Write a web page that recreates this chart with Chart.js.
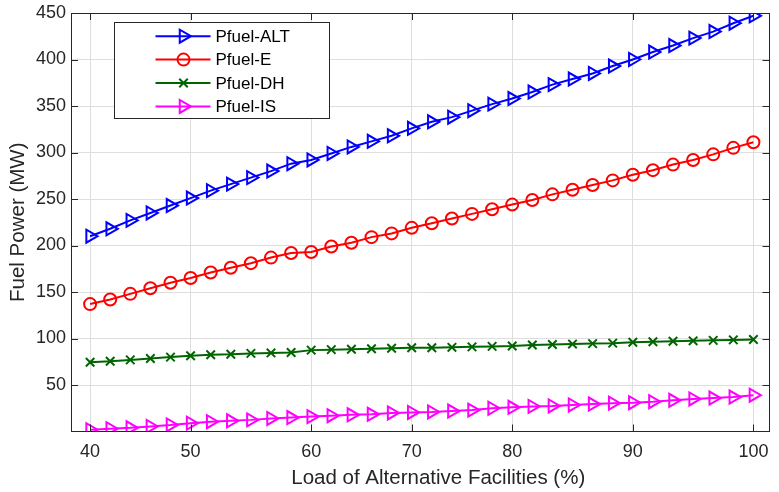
<!DOCTYPE html>
<html><head><meta charset="utf-8">
<script src="https://cdn.jsdelivr.net/npm/chart.js@4/dist/chart.umd.min.js"></script>
<style>html,body{margin:0;padding:0;background:#fff}#wrap{width:779px;height:492px}</style>
</head><body><div id="wrap"><canvas id="c" width="779" height="492"></canvas></div>
<script>
// x-axis category labels per sample point (only some points carry a tick label)
const xTickLabels = ['40','','','','','50','','','','','','60','','','','','70','','','','','80','','','','','','90','','','','','','100'];
const yTickValues = [50,100,150,200,250,300,350,400,450];
const seriesNames = ['Pfuel-ALT','Pfuel-E','Pfuel-DH','Pfuel-IS'];
const xTitle = 'Load of Alternative Facilities (%)';
const yTitle = 'Fuel Power (MW)';
const pfuelALT = [210,218,227,235,243,251,259,266,273,280,288,292,299,306,312,318,326,333,338,345,352,358,365,373,379,385,393,400,408,415,423,430,439,447];
const pfuelE   = [137,142,148,154,160,165,171,176,181,187,192,193,199,203,209,213,219,224,229,234,239,244,249,255,260,265,270,276,281,287,292,298,305,311];
const pfuelDH  = [74.5,75.5,77,78.5,80,81.5,82.5,83,84,84.5,85,87.5,88,88.5,89,89.5,90,90,90.5,91,91.5,92,93,93.5,94,94.5,95,96,96.5,97,97.5,98,98.5,99];
const pfuelIS  = [2,3,4,5.5,7,9,10.5,11.5,12.5,14,15,16,17,18,18.5,20,20.5,21,22,23,25,26,27,27.5,28.5,29.5,30.5,31,32,33.5,35,36,37,39];

const FONT = "'Liberation Sans', Arial, sans-serif";
const AX = '#262626';
const pts = arr => arr.map((v, i) => ({x: i, y: v}));

function ds(label, data, color, style, radius, rotation) {
  return {label, data: pts(data), borderColor: color, borderWidth: 2,
    pointStyle: style, pointRadius: radius, pointRotation: rotation,
    pointBorderColor: color, pointBackgroundColor: 'rgba(0,0,0,0)', pointBorderWidth: 2,
    tension: 0, fill: false};
}

const boxPlugin = {
  id: 'box',
  afterDraw(chart) {
    const {ctx, chartArea: ca, scales} = chart;
    ctx.save();
    ctx.strokeStyle = AX; ctx.lineWidth = 1;
    ctx.strokeRect(Math.round(ca.left) + 0.5, Math.round(ca.top) + 0.5, Math.round(ca.right - ca.left) - 1, Math.round(ca.bottom - ca.top) - 1);
    const tl = 7;
    ctx.beginPath();
    scales.x.ticks.forEach(t => {
      const px = Math.round(scales.x.getPixelForValue(t.value)) + 0.5;
      ctx.moveTo(px, ca.bottom); ctx.lineTo(px, ca.bottom - tl);
      ctx.moveTo(px, ca.top); ctx.lineTo(px, ca.top + tl);
    });
    scales.y.ticks.forEach(t => {
      const py = Math.round(scales.y.getPixelForValue(t.value)) + 0.5;
      ctx.moveTo(ca.left, py); ctx.lineTo(ca.left + tl, py);
      ctx.moveTo(ca.right, py); ctx.lineTo(ca.right - tl, py);
    });
    ctx.stroke();

    // x-axis title (sits slightly right of the axes centre in the reference)
    ctx.fillStyle = AX;
    ctx.font = '20.5px ' + FONT;
    ctx.textAlign = 'center';
    ctx.textBaseline = 'middle';
    ctx.fillText(xTitle, (ca.left + ca.right) / 2 + 18, chart.height - 14);

    // legend
    const bx = Math.round(ca.left + 43) + 0.5, by = Math.round(ca.top + 9) + 0.5, bw = 215, bh = 96;
    ctx.fillStyle = '#fff';
    ctx.fillRect(bx, by, bw, bh);
    ctx.strokeStyle = AX; ctx.lineWidth = 1;
    ctx.strokeRect(bx, by, bw, bh);
    ctx.font = '17px ' + FONT;
    ctx.textAlign = 'left';
    ctx.textBaseline = 'middle';
    chart.data.datasets.forEach((d, k) => {
      const y = by + 13.7 + k * 23.4;
      ctx.strokeStyle = d.borderColor; ctx.lineWidth = d.borderWidth;
      ctx.beginPath(); ctx.moveTo(bx + 41, y); ctx.lineTo(bx + 96, y); ctx.stroke();
      ctx.fillStyle = 'rgba(0,0,0,0)';
      ctx.lineWidth = d.pointBorderWidth;
      Chart.helpers.drawPoint(ctx, {pointStyle: d.pointStyle, rotation: d.pointRotation, radius: d.pointRadius, borderWidth: d.pointBorderWidth}, bx + 69, y);
      ctx.fillStyle = '#000';
      ctx.fillText(d.label, bx + 101, y + 1);
    });
    ctx.restore();
  }
};

new Chart(document.getElementById('c'), {
  type: 'line',
  data: {datasets: [
    ds(seriesNames[0], pfuelALT, '#0000ff', 'triangle', 7.5, 90),
    ds(seriesNames[1], pfuelE, '#ff0000', 'circle', 6, 0),
    ds(seriesNames[2], pfuelDH, '#006400', 'crossRot', 6, 0),
    ds(seriesNames[3], pfuelIS, '#ff00ff', 'triangle', 7.5, 90)
  ]},
  options: {
    responsive: false, animation: false,
    layout: {padding: {top: 13, right: 1, left: 0, bottom: 0}},
    plugins: {legend: {display: false}, tooltip: {enabled: false}},
    scales: {
      x: {type: 'linear', min: -0.95, max: 33.8,
        afterBuildTicks: s => { s.ticks = xTickLabels.map((l, i) => l ? {value: i} : null).filter(Boolean); },
        afterFit: s => { s.height = 60.5; s.paddingLeft = 0; s.paddingRight = 0; },
        ticks: {callback: v => xTickLabels[v], color: AX, font: {family: FONT, size: 18}, padding: 10, maxRotation: 0, autoSkip: false},
        grid: {color: '#dedede', drawTicks: false}, border: {display: false},
        title: {display: false}
      },
      y: {min: 0, max: 450,
        afterBuildTicks: s => { s.ticks = yTickValues.map(v => ({value: v})); },
        afterFit: s => { s.width = 71; s.paddingTop = 0; s.paddingBottom = 0; },
        ticks: {color: AX, font: {family: FONT, size: 18}, padding: 5},
        grid: {color: '#dedede', drawTicks: false}, border: {display: false},
        title: {display: true, text: yTitle, color: AX, font: {family: FONT, size: 20.5, lineHeight: 1.2}, padding: {top: 6, bottom: 0}}
      }
    }
  },
  plugins: [boxPlugin]
});
</script></body></html>
